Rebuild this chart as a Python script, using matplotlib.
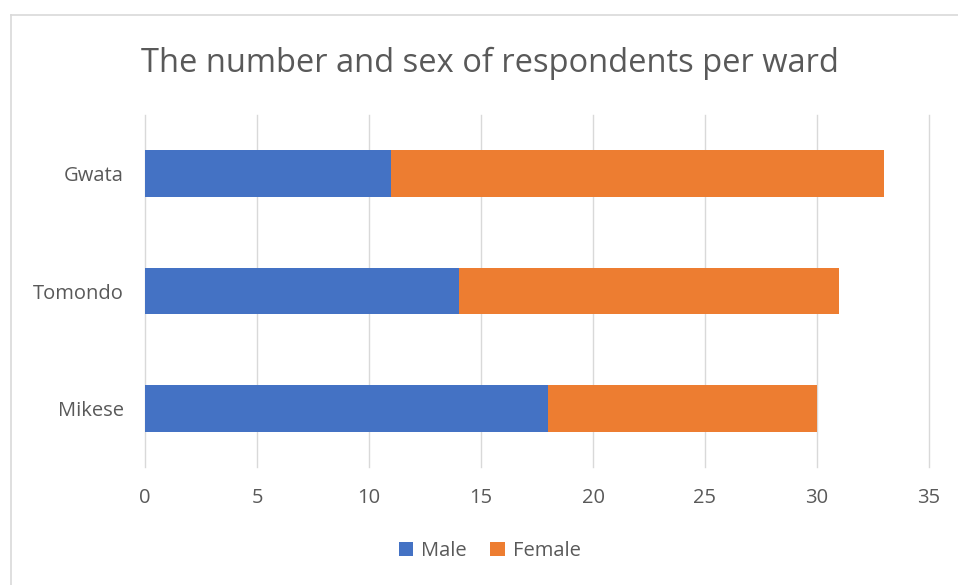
import matplotlib.pyplot as plt
from matplotlib.lines import Line2D

# Данные
wards = ["Mikese", "Tomondo", "Gwata"]
male = [18, 14, 11]
female = [12, 17, 22]

text_color = "#595959"
plt.rcParams["font.family"] = ["Open Sans", "DejaVu Sans"]

fig = plt.figure(figsize=(9.58, 5.85), dpi=100)
ax = fig.add_axes([0.1514, 0.2017, 0.8183, 0.6017])

pos = range(len(wards))
ax.barh(pos, male, height=0.4, color="#4472C4", label="Male", zorder=3)
ax.barh(pos, female, left=male, height=0.4, color="#ED7D31", label="Female", zorder=3)

ax.set_xlim(0, 35)
ax.set_ylim(-0.5, 2.5)
ax.set_xticks(range(0, 36, 5))
ax.set_yticks(list(pos))
ax.set_yticklabels(wards)
ax.grid(axis="x", color="#d9d9d9", linewidth=1, zorder=0)
for g in ax.get_xgridlines():
    g.set_clip_on(False)
for s in ax.spines.values():
    s.set_visible(False)
ax.tick_params(length=0, labelsize=14.5, colors=text_color, pad=15)
ax.tick_params(axis="y", pad=15.5)

fig.suptitle("The number and sex of respondents per ward", x=0.511, y=0.92,
             fontsize=23.5, color=text_color)

fig.legend(loc="center", bbox_to_anchor=(0.511, 0.058), ncol=2, frameon=False,
           fontsize=14.5, labelcolor=text_color, handlelength=0.7, handleheight=0.7,
           handletextpad=0.4, columnspacing=1.2)

# рамка диаграммы
fig.add_artist(Line2D([11 / 958, 1], [1 - 15 / 585, 1 - 15 / 585], color="#d9d9d9", lw=1.2))
fig.add_artist(Line2D([11 / 958, 11 / 958], [0, 1 - 15 / 585], color="#d9d9d9", lw=1.2))

fig.savefig("out.png", dpi=100)
